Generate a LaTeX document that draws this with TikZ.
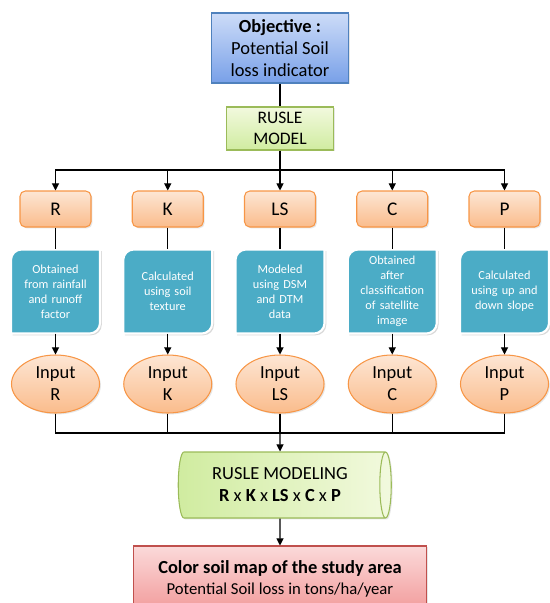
\documentclass[tikz,border=0pt]{standalone}
\usepackage{fontspec}
\setmainfont{Carlito}
\usetikzlibrary{shapes.geometric,arrows.meta,backgrounds,shadows}

\definecolor{objline}{RGB}{79,129,189}
\definecolor{objtop}{RGB}{205,220,248}
\definecolor{objbot}{RGB}{120,160,232}
\definecolor{grnline}{RGB}{155,187,89}
\definecolor{grntop}{RGB}{242,249,222}
\definecolor{grnbot}{RGB}{208,236,160}
\definecolor{orgline}{RGB}{247,150,70}
\definecolor{orgtop}{RGB}{253,230,212}
\definecolor{orgbot}{RGB}{250,188,140}
\definecolor{tealfill}{RGB}{75,172,198}
\definecolor{redline}{RGB}{192,80,77}
\definecolor{redtop}{RGB}{251,218,218}
\definecolor{redbot}{RGB}{242,155,155}

\tikzset{
  arr/.style={-{Triangle[length=4pt,width=4pt]}},
  softshadow/.style={drop shadow={shadow xshift=0.8pt,shadow yshift=-0.8pt,opacity=0.2}},
  objbox/.style={draw=objline,top color=objtop,bottom color=objbot,minimum width=2.74cm,minimum height=1.4cm,
    inner sep=1pt,align=center,softshadow,font=\fontsize{10.5}{12.5}\selectfont},
  modelbox/.style={draw=grnline,top color=grntop,bottom color=grnbot,minimum width=2.14cm,minimum height=0.86cm,
    inner sep=1pt,align=center,softshadow,font=\fontsize{10}{12}\selectfont},
  factor/.style={draw=orgline,top color=orgtop,bottom color=orgbot,rounded corners=3pt,minimum width=1.42cm,
    minimum height=0.72cm,softshadow,font=\fontsize{11}{13}\selectfont},
  descbox/.style={inner sep=0.03cm,text width=1.7cm,minimum height=1.66cm,align=center,text=white,
    font=\fontsize{7}{8.6}\selectfont},
  descshape/.style={fill=tealfill,draw=white,line width=1.2pt,
    drop shadow={shadow xshift=1pt,shadow yshift=-1pt,opacity=0.3}},
  inputell/.style={ellipse,draw=orgline,top color=orgtop,bottom color=orgbot,minimum width=1.76cm,
    minimum height=1.16cm,inner sep=0pt,align=center,softshadow,font=\fontsize{10.5}{12.5}\selectfont},
  modcyl/.style={cylinder,shape aspect=0.25,draw=grnline,left color=grnbot,right color=grntop,
    minimum width=1.32cm,minimum height=4.26cm,align=center,softshadow,font=\fontsize{10.5}{12.5}\selectfont},
  mapbox/.style={draw=redline,top color=redtop,bottom color=redbot,minimum width=5.86cm,minimum height=1.3cm,
    align=center,softshadow,font=\fontsize{10.5}{12}\selectfont}
}

\begin{document}
\begin{tikzpicture}[line width=0.6pt] % RUSLE flow chart
\useasboundingbox (0,0) rectangle (11,-12.06);
\node[objbox] (obj) at (5.6,-0.96) {\textbf{Objective :}\\Potential Soil\\loss indicator};
\node[modelbox] (model) at (5.6,-2.57) {RUSLE\\MODEL};
\foreach \n/\x in {R/1.11,K/3.355,LS/5.6,C/7.845,P/10.09}{
  \node[factor] (f\n) at (\x,-4.18) {\n};
  \node[inputell] (i\n) at (\x,-7.68) {Input\\\n};
}
\node[descbox] (dR) at (1.11,-5.83) {Obtained\\from rainfall\\and runoff\\factor};
\node[descbox] (dK) at (3.355,-5.83) {Calculated\\using soil\\texture};
\node[descbox] (dLS) at (5.6,-5.83) {Modeled\\using DSM\\and DTM\\data};
\node[descbox] (dC) at (7.845,-5.83) {Obtained\\after\\classification\\of satellite\\image};
\node[descbox] (dP) at (10.09,-5.83) {Calculated\\using up and\\down slope};
\begin{scope}[on background layer]
  \foreach \n in {R,K,LS,C,P}
    \filldraw[descshape] (d\n.south west) -- ([yshift=-6pt]d\n.north west) arc[start angle=180,end angle=90,radius=6pt]
      -- (d\n.north east) -- ([yshift=6pt]d\n.south east) arc[start angle=0,end angle=-90,radius=6pt] -- cycle;
\end{scope}
\node[modcyl] (mod) at (5.6,-9.7) {RUSLE MODELING\\\textbf{R} x \textbf{K} x \textbf{LS} x \textbf{C} x \textbf{P}};
\node[mapbox] (map) at (5.6,-11.57) {\textbf{Color soil map of the study area}\\{\fontsize{9.5}{11}\selectfont Potential Soil loss in tons/ha/year}};
\coordinate (split) at (5.6,-3.4);
\coordinate (join) at (5.6,-8.66);
\draw (obj) -- (model);
\draw (model) -- (split);
\foreach \n in {R,K,LS,C,P}{
  \draw[arr] (split) -| (f\n);
  \draw (f\n) -- (d\n);
  \draw[arr] (d\n) -- (i\n);
  \draw (i\n) |- (join);
}
\draw[arr] (join) -- (mod);
\draw[arr] (mod) -- (map);
\end{tikzpicture}
\end{document}
